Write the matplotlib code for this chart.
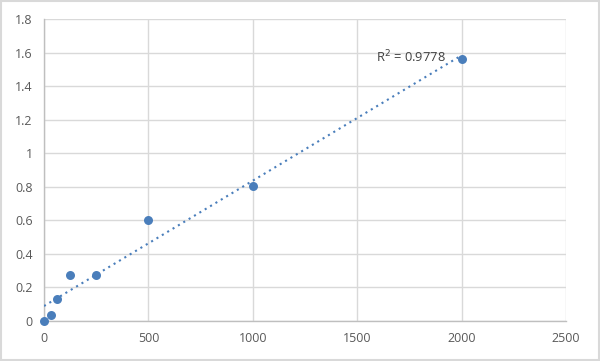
import matplotlib
matplotlib.use("Agg")
import matplotlib.pyplot as plt
import numpy as np
from matplotlib.patches import Rectangle

x_vals = [0, 31.25, 62.5, 125, 250, 500, 1000, 2000]
y_vals = [0.0, 0.036, 0.133, 0.272, 0.272, 0.60, 0.805, 1.561]
r2_label = "R$^2$ = 0.9778"
x_ticks = [0, 500, 1000, 1500, 2000, 2500]
y_ticks = [0, 0.2, 0.4, 0.6, 0.8, 1.0, 1.2, 1.4, 1.6, 1.8]
y_tick_labels = ["0", "0.2", "0.4", "0.6", "0.8", "1", "1.2", "1.4", "1.6", "1.8"]

plt.rcParams['font.family'] = ['Open Sans', 'DejaVu Sans']

fig = plt.figure(figsize=(6.0, 3.61), dpi=100)
ax = fig.add_axes([44/600, 40/361, 522/600, 302/361])

xs = np.array(x_vals)
ys = np.array(y_vals)
m, b = np.polyfit(xs, ys, 1)
xl = np.array([xs.min(), xs.max()])
ax.plot(xl, m*xl + b, linestyle=(0, (1, 2)), color='#4a7ebb', lw=1.5, zorder=3)
ax.scatter(xs, ys, s=42, color='#4a7ebb', zorder=4, linewidths=0, clip_on=False)

ax.set_xlim(0, 2500)
ax.set_ylim(0, 1.8)
ax.set_xticks(x_ticks)
ax.set_xticklabels([str(t) for t in x_ticks])
ax.set_yticks(y_ticks)
ax.set_yticklabels(y_tick_labels)
ax.grid(True, color='#d9d9d9', lw=1)
ax.set_axisbelow(True)
for s in ['top', 'right']:
    ax.spines[s].set_visible(False)
for s in ['left', 'bottom']:
    ax.spines[s].set_color('#bfbfbf')
    ax.spines[s].set_linewidth(1)
ax.tick_params(length=0, colors='#595959', labelsize=9, pad=8)
for lab in ax.get_xticklabels() + ax.get_yticklabels():
    lab.set_color('#595959')

ax.text(1925, 1.575, r2_label, ha='right', va='center', fontsize=9.3, color='#404040')

fig.patches.append(Rectangle((0.0015, 0.0025), 0.997, 0.995, transform=fig.transFigure,
                             fill=False, edgecolor='#d9d9d9', lw=1.5))
fig.savefig('out.png', dpi=100, facecolor='white')
